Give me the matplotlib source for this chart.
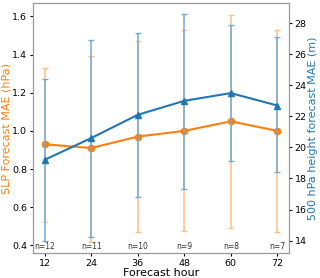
import matplotlib.pyplot as plt
import numpy as np

hours = [12, 24, 36, 48, 60, 72]
n_cases = [12, 11, 10, 9, 8, 7]

# SLP forecast MAE (hPa), with error bar ranges
slp_mae = [0.93, 0.91, 0.97, 1.00, 1.05, 1.00]
slp_low = [0.525, 0.42, 0.47, 0.475, 0.49, 0.47]
slp_high = [1.33, 1.39, 1.47, 1.53, 1.61, 1.53]

# 500 hPa height forecast MAE (m)
z500_mae = [19.2, 20.6, 22.1, 23.0, 23.5, 22.7]
z500_low = [14.0, 14.2, 16.8, 17.3, 19.1, 18.4]
z500_high = [24.4, 26.9, 27.4, 28.6, 27.9, 27.1]

orange = "#ff7f0e"
blue = "#1f77b4"

fig = plt.figure(figsize=(3.2, 2.78), dpi=100)
ax = fig.add_axes([0.103, 0.09, 0.8, 0.899])
ax2 = ax.twinx()

slp = np.array(slp_mae)
yerr1 = [slp - np.array(slp_low), np.array(slp_high) - slp]
ax.errorbar(hours, slp_mae, yerr=yerr1, fmt="none", ecolor="#ffbf87",
            elinewidth=1.1, capsize=2.5, capthick=1)
ax.plot(hours, slp_mae, color=orange, marker="o", markersize=4.5, lw=1.5)

z = np.array(z500_mae)
yerr2 = [z - np.array(z500_low), np.array(z500_high) - z]
ax2.errorbar(hours, z500_mae, yerr=yerr2, fmt="none", ecolor="#72aad2",
             elinewidth=1.1, capsize=2.5, capthick=1)
ax2.plot(hours, z500_mae, color=blue, marker="^", markersize=4.8, lw=1.5)

ax.set_xlim(9, 75)
ax.set_ylim(0.36, 1.67)
ax2.set_ylim(13.2, 29.3)
ax.set_xticks(hours)
ax.set_yticks([0.4, 0.6, 0.8, 1.0, 1.2, 1.4, 1.6])
ax2.set_yticks([14, 16, 18, 20, 22, 24, 26, 28])

ax.tick_params(labelsize=6.8, length=2.5, pad=1.5)
ax2.tick_params(labelsize=6.8, length=2.5, pad=1.5)

ax.set_xlabel("Forecast hour", fontsize=8, labelpad=0.5)
ax.set_ylabel("SLP Forecast MAE (hPa)", color=orange, fontsize=8, labelpad=1)
ax2.set_ylabel("500 hPa height forecast MAE (m)", color=blue, fontsize=8, labelpad=1)

for h, n in zip(hours, n_cases):
    ax.text(h, 0.372, f"n={n}", ha="center", va="bottom", fontsize=5.5, color="#333333")

for a in (ax, ax2):
    for s in a.spines.values():
        s.set_color("#999999")

fig.savefig("out.png", dpi=100)
